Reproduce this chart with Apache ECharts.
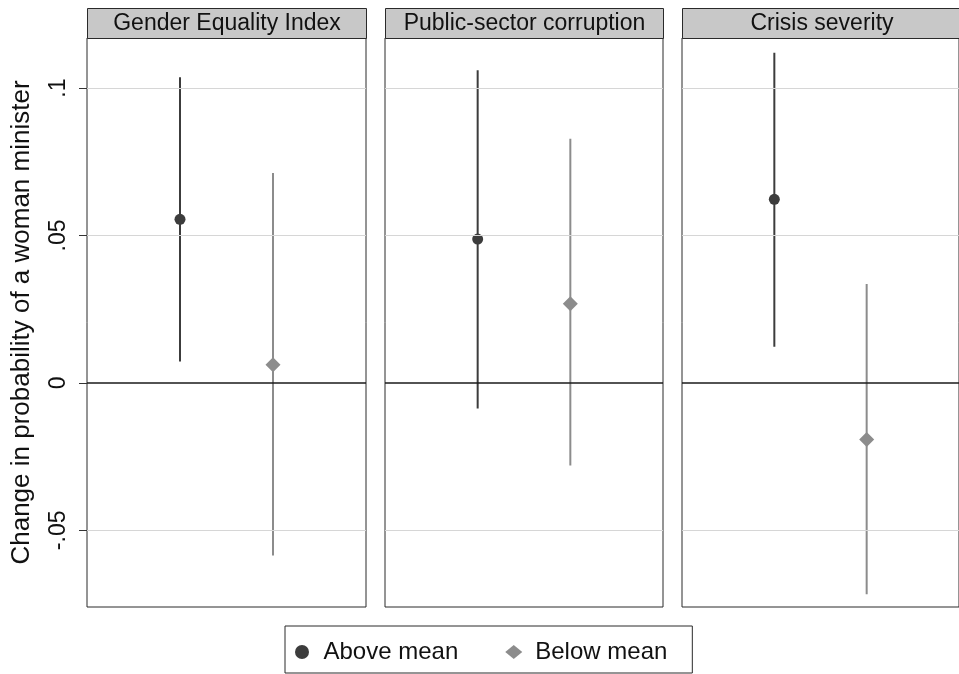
<!DOCTYPE html>
<html>
<head>
<meta charset="utf-8">
<script src="https://cdn.jsdelivr.net/npm/echarts@6/dist/echarts.min.js"></script>
<style>
  html, body { margin: 0; padding: 0; background: #fff; }
  #chart { width: 959px; height: 674px; }
</style>
</head>
<body>
<div id="chart"></div>
<script>
// Panel titles (one facet per moderator)
const panels = ['Gender Equality Index', 'Public-sector corruption', 'Crisis severity'];

// Estimated change and 95% interval, countries above the mean
const aboveEst = [0.0555, 0.0488, 0.0623];
const aboveLo  = [0.0073, -0.0087, 0.0123];
const aboveHi  = [0.1037, 0.1061, 0.1120];

// Estimated change and 95% interval, countries below the mean
const belowEst = [0.0062, 0.0269, -0.0192];
const belowLo  = [-0.0585, -0.0280, -0.0717];
const belowHi  = [0.0712, 0.0828, 0.0336];

// Vertical axis
const yMin = -0.0760;
const yMax = 0.1170;
const yTicks = [-0.05, 0, 0.05, 0.1];
const yTickLabels = ['-.05', '0', '.05', '.1'];

const groupNames = ['Above mean', 'Below mean'];
const groupPos = [1, 2];

const FONT = 'Liberation Sans, Arial, Helvetica, sans-serif';
const darkCol = '#3c3c3c';
const lightCol = '#8c8c8c';

const gridBoxes = [
  { left: 87,  top: 38, width: 279, height: 569 },
  { left: 385, top: 38, width: 278, height: 569 },
  { left: 682, top: 38, width: 279, height: 569 }
];

const chart = echarts.init(document.getElementById('chart'), null, { renderer: 'canvas' });

const grids = [], xAxes = [], yAxes = [], series = [], graphics = [];

function errorBar(i, pos, lo, hi, color) {
  return {
    type: 'custom',
    xAxisIndex: i, yAxisIndex: i,
    z: 3,
    silent: true,
    data: [[pos, lo, hi]],
    renderItem: function (params, api) {
      const a = api.coord([api.value(0), api.value(1)]);
      const b = api.coord([api.value(0), api.value(2)]);
      return {
        type: 'line',
        shape: { x1: a[0], y1: a[1], x2: b[0], y2: b[1] },
        style: { stroke: color, lineWidth: 2 }
      };
    }
  };
}

panels.forEach(function (title, i) {
  const g = gridBoxes[i];
  grids.push({
    left: g.left, top: g.top, width: g.width, height: g.height,
    show: true, borderColor: '#2a2a2a', borderWidth: 1, backgroundColor: '#fff',
    containLabel: false
  });
  xAxes.push({
    gridIndex: i, type: 'value', min: 0, max: 3, show: false
  });
  yAxes.push({
    gridIndex: i, type: 'value', min: yMin, max: yMax,
    show: i === 0,
    name: i === 0 ? 'Change in probability of a woman minister' : '',
    nameLocation: 'middle',
    nameRotate: 90,
    nameGap: 52,
    nameTextStyle: { fontFamily: FONT, fontSize: 26, color: '#111' },
    axisLine: { show: false },
    axisTick: {
      show: true, length: 8, inside: false,
      lineStyle: { color: '#333', width: 1 },
      customValues: yTicks
    },
    axisLabel: {
      show: true, rotate: 90, margin: 17,
      fontFamily: FONT, fontSize: 23, color: '#111',
      customValues: yTicks,
      formatter: function (v) {
        const k = yTicks.findIndex(function (t) { return Math.abs(t - v) < 1e-9; });
        return k >= 0 ? yTickLabels[k] : '';
      }
    },
    splitLine: { show: false }
  });

  // horizontal reference lines at each tick, plus the zero line
  series.push({
    type: 'line', xAxisIndex: i, yAxisIndex: i, data: [], z: 1, silent: true,
    markLine: {
      silent: true, symbol: 'none', animation: false,
      label: { show: false },
      lineStyle: { color: '#d6d6d6', width: 1, type: 'solid' },
      data: yTicks.filter(function (t) { return t !== 0; }).map(function (t) { return { yAxis: t }; })
    }
  });
  series.push({
    type: 'line', xAxisIndex: i, yAxisIndex: i, data: [], z: 2, silent: true,
    markLine: {
      silent: true, symbol: 'none', animation: false,
      label: { show: false },
      lineStyle: { color: '#1a1a1a', width: 1.5, type: 'solid' },
      data: [{ yAxis: 0 }]
    }
  });

  series.push(errorBar(i, groupPos[0], aboveLo[i], aboveHi[i], darkCol));
  series.push(errorBar(i, groupPos[1], belowLo[i], belowHi[i], lightCol));

  series.push({
    type: 'scatter', name: groupNames[0], xAxisIndex: i, yAxisIndex: i, z: 4,
    symbol: 'circle', symbolSize: 11,
    itemStyle: { color: darkCol, opacity: 1 },
    data: [[groupPos[0], aboveEst[i]]]
  });
  series.push({
    type: 'scatter', name: groupNames[1], xAxisIndex: i, yAxisIndex: i, z: 4,
    symbol: 'diamond', symbolSize: 15,
    itemStyle: { color: lightCol, opacity: 1 },
    data: [[groupPos[1], belowEst[i]]]
  });

  // facet header strip
  graphics.push({
    type: 'group',
    left: g.left, top: 8,
    children: [
      {
        type: 'rect',
        shape: { x: 0, y: 0, width: g.width, height: 30 },
        style: { fill: '#c8c8c8', stroke: '#2a2a2a', lineWidth: 1 }
      },
      {
        type: 'text',
        x: g.width / 2, y: 15,
        style: {
          text: title, fill: '#111', font: '23px ' + FONT,
          textAlign: 'center', textVerticalAlign: 'middle'
        }
      }
    ]
  });
});

chart.setOption({
  animation: false,
  backgroundColor: '#fff',
  grid: grids,
  xAxis: xAxes,
  yAxis: yAxes,
  series: series,
  graphic: graphics,
  legend: {
    data: [
      { name: groupNames[0], icon: 'circle' },
      { name: groupNames[1], icon: 'diamond' }
    ],
    left: 285, top: 626,
    orient: 'horizontal',
    itemWidth: 17, itemHeight: 14,
    itemGap: 47,
    padding: [14, 25, 9, 10],
    borderColor: '#2a2a2a', borderWidth: 1,
    backgroundColor: '#fff',
    selectedMode: false,
    textStyle: { fontFamily: FONT, fontSize: 24, color: '#111', padding: [0, 0, 0, 8] }
  }
});
</script>
</body>
</html>
